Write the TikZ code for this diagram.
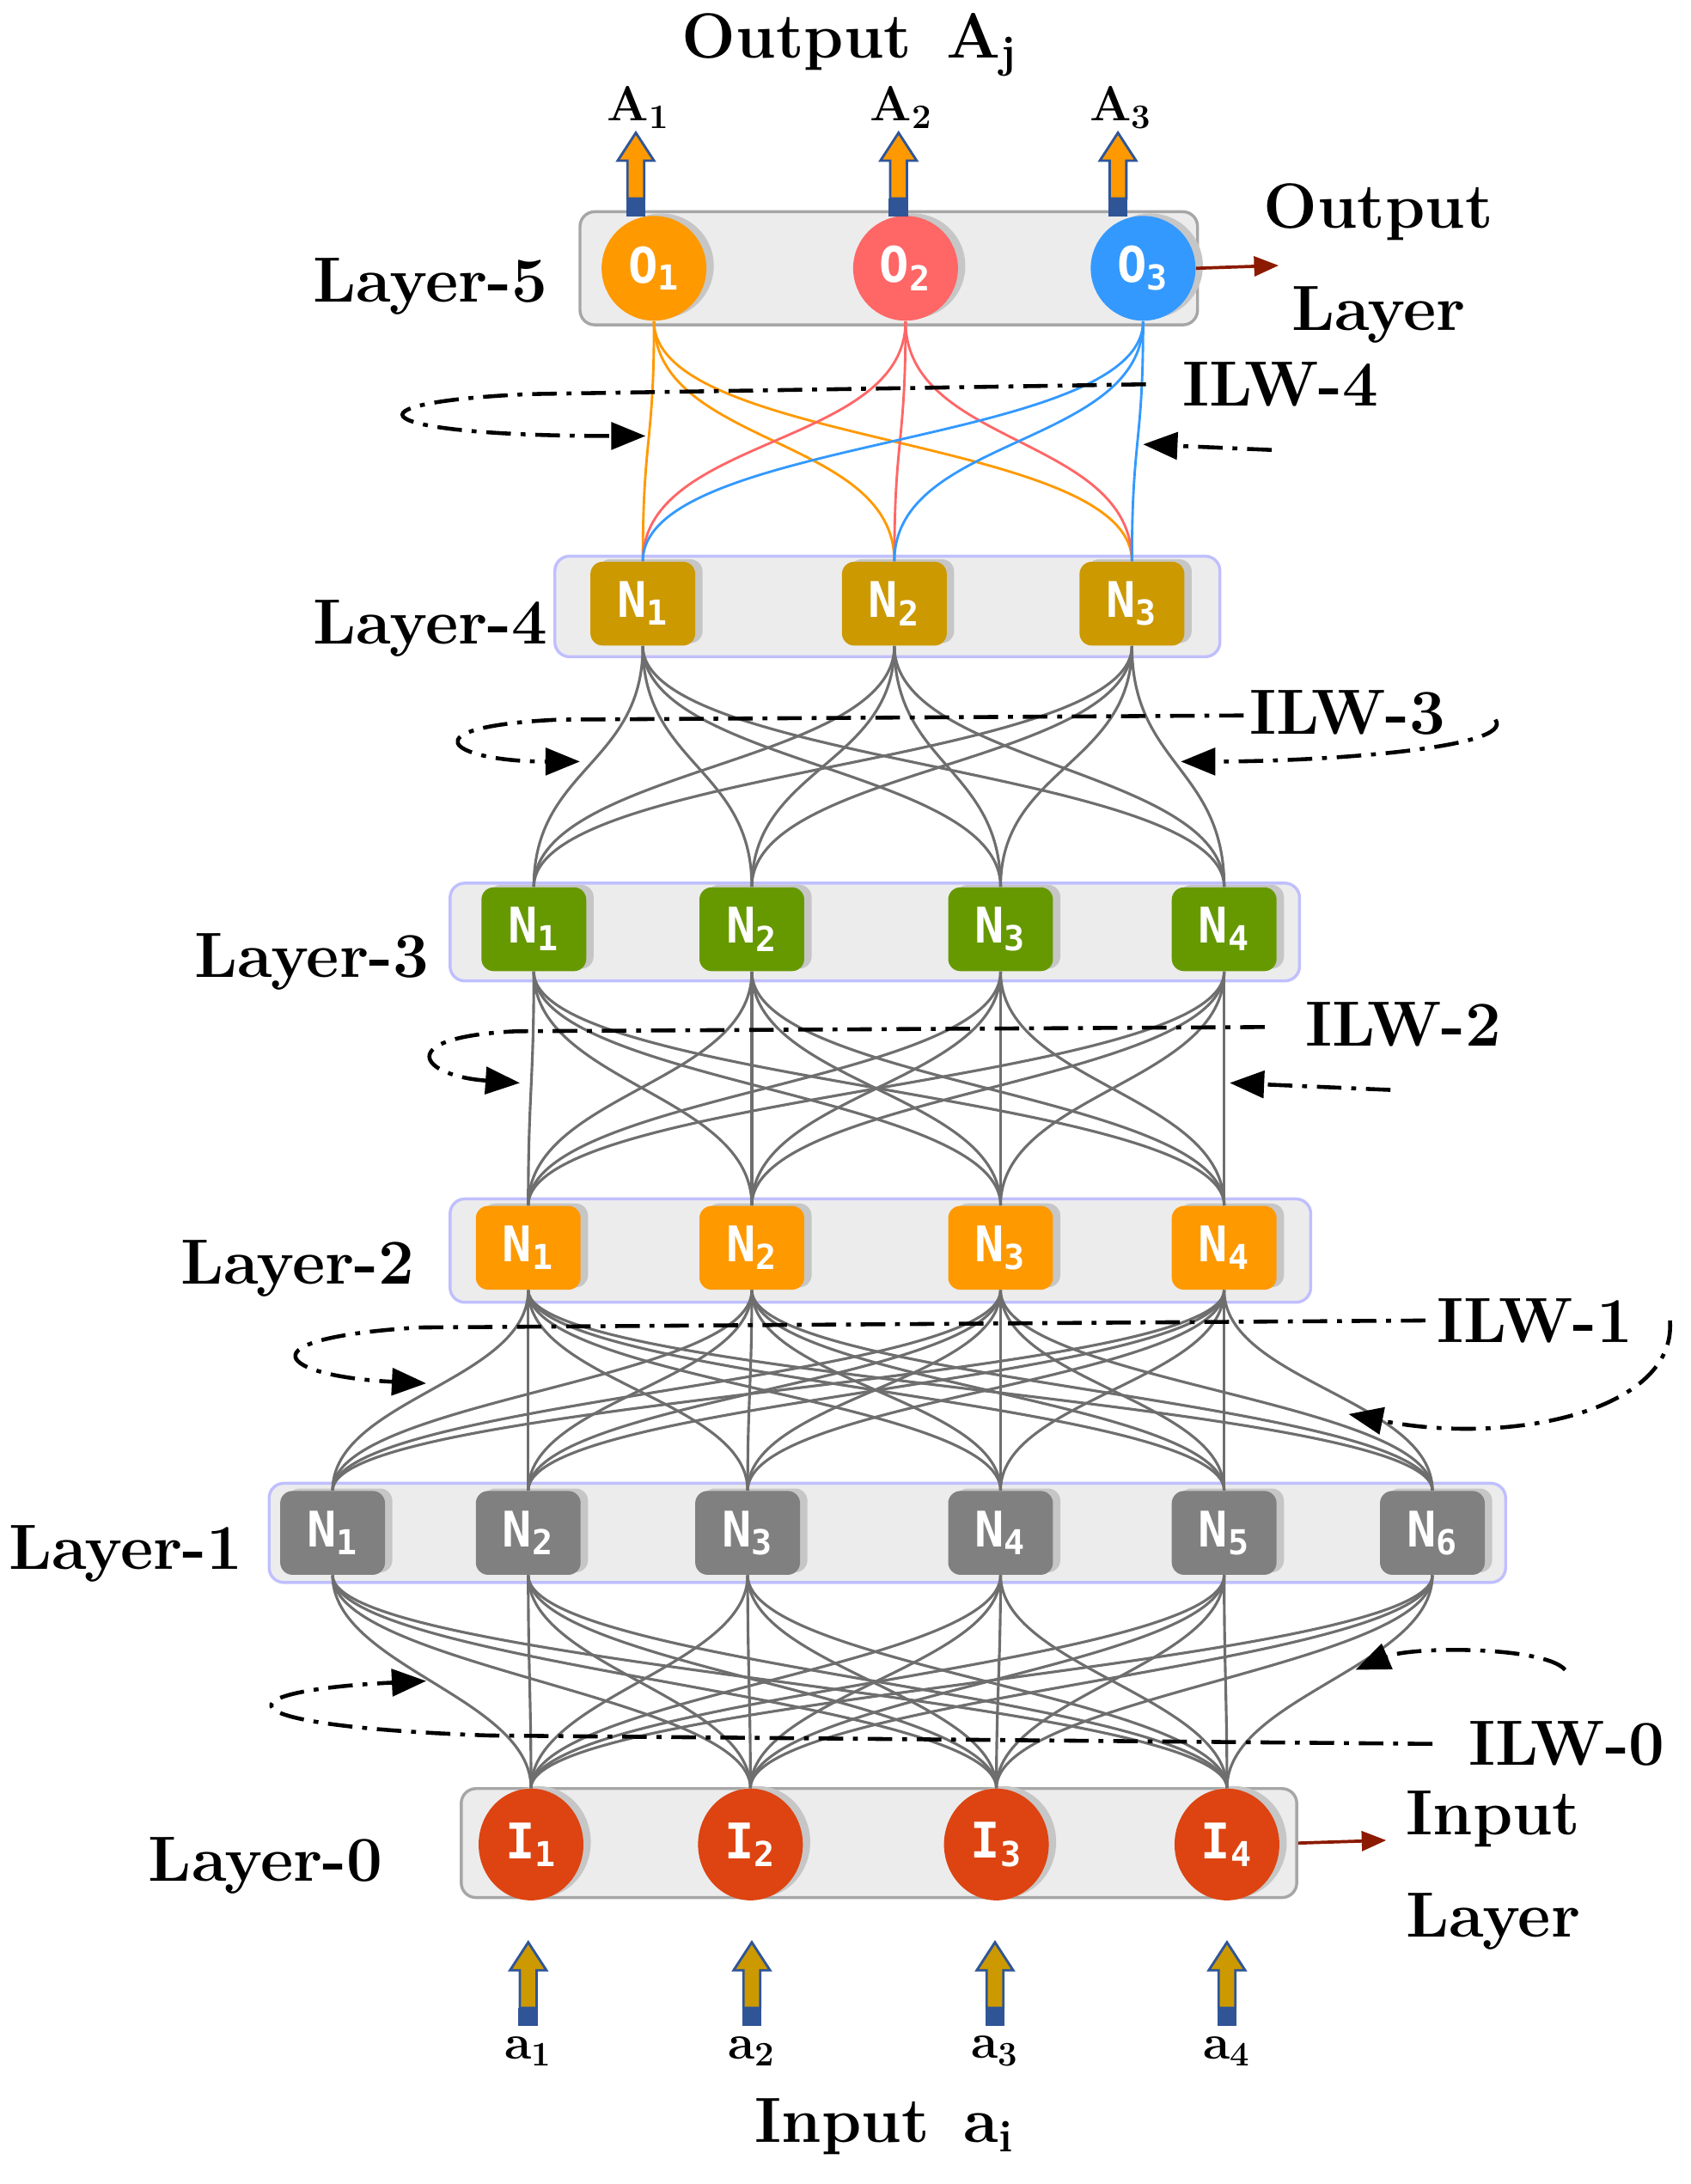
\documentclass[tikz,border=0pt]{standalone}
\usepackage{fontspec}
\newfontfamily\nodefont{DejaVu Sans Mono}
\usetikzlibrary{arrows.meta,shadows,shapes.geometric}
\definecolor{cO1}{HTML}{FF9900}
\definecolor{cO2}{HTML}{FF6666}
\definecolor{cO3}{HTML}{3399FF}
\definecolor{cL4}{HTML}{CC9900}
\definecolor{cL3}{HTML}{669900}
\definecolor{cL2}{HTML}{FF9900}
\definecolor{cL1}{HTML}{808080}
\definecolor{cL0}{HTML}{DD4411}
\definecolor{edge}{HTML}{6E6E6E}
\definecolor{arrblue}{HTML}{2F5597}
\definecolor{darkred}{HTML}{8B1A00}
\newcommand\myuparrow[3]{% x, bottom y, colour
  \fill[arrblue] (#1-7,#2) rectangle (#1+7,#2-13);
  \draw[arrblue,line width=1pt,fill=#3] (#1-6,#2-13) -- (#1-6,#2-40) -- (#1-13,#2-40) -- (#1,#2-60) -- (#1+13,#2-40) -- (#1+6,#2-40) -- (#1+6,#2-13) -- cycle;}
\begin{document}
\begin{tikzpicture}[x=0.02cm,y=-0.02cm,
  lbl/.style={font=\bfseries\fontsize{26}{29}\selectfont},
  box/.style={draw=#1,line width=1.2pt,fill=gray!15,rounded corners=6pt},
  nn/.style={fill=#1,text=white,rounded corners=5pt,minimum width=1.5cm,minimum height=1.2cm,inner sep=0pt,
     font=\nodefont\bfseries\fontsize{20}{22}\selectfont,
     drop shadow={shadow xshift=3pt,shadow yshift=1pt,fill=gray!45,opacity=1}},
  oo/.style={fill=#1,text=white,ellipse,minimum width=1.5cm,minimum height=1.5cm,inner sep=0pt,
     font=\nodefont\bfseries\fontsize{20}{22}\selectfont,
     drop shadow={shadow xshift=3pt,shadow yshift=1pt,fill=gray!45,opacity=1}},
  ed/.style={draw=edge,line width=1.1pt},
  ilw/.style={draw=black,line width=1.6pt,dash pattern=on 10pt off 4pt on 2pt off 4pt},
  ilwa/.style={ilw,-{Triangle[length=14pt,width=11pt]}}]
\useasboundingbox (0,0) rectangle (1210,1563);
% layer boxes
\node[box=gray!70,minimum width=8.84cm,minimum height=1.62cm] (B5) at (636,192) {};
\node[box=blue!25,minimum width=9.52cm,minimum height=1.44cm] (B4) at (635,434) {};
\node[box=blue!25,minimum width=12.16cm,minimum height=1.4cm] (B3) at (626,667) {};
\node[box=blue!25,minimum width=12.32cm,minimum height=1.48cm] (B2) at (630,895) {};
\node[box=blue!25,minimum width=17.7cm,minimum height=1.42cm] (B1) at (635,1097) {};
\node[box=gray!70,minimum width=11.96cm,minimum height=1.56cm] (B0) at (629,1319) {};
% nodes
\node[oo=cO1] (O1) at (468,192) {O\textsubscript{1}};
\node[oo=cO2] (O2) at (648,192) {O\textsubscript{2}};
\node[oo=cO3] (O3) at (818,192) {O\textsubscript{3}};
\foreach \x/\i in {460/1,640/2,810/3}
  \node[nn=cL4] (D\i) at (\x,432) {N\textsubscript{\i}};
\foreach \x/\i in {382/1,538/2,716/3,876/4}
  \node[nn=cL3] (C\i) at (\x,665) {N\textsubscript{\i}};
\foreach \x/\i in {378/1,538/2,716/3,876/4}
  \node[nn=cL2] (B\i) at (\x,893) {N\textsubscript{\i}};
\foreach \x/\i in {238/1,378/2,535/3,716/4,876/5,1025/6}
  \node[nn=cL1] (A\i) at (\x,1097) {N\textsubscript{\i}};
\foreach \x/\i in {380/1,537/2,713/3,878/4}
  \node[oo=cL0,minimum height=1.6cm] (I\i) at (\x,1320) {I\textsubscript{\i}};
% edges
\foreach \s/\c in {1/cO1,2/cO2,3/cO3}
  \foreach \t in {1,2,3}
    \draw[draw=\c,line width=1pt] (O\s.south) .. controls ([yshift=-1.8cm]O\s.south) and ([yshift=1.8cm]D\t.north) .. (D\t.north);
\foreach \s in {1,2,3}
  \foreach \t in {1,2,3,4}
    \draw[ed] (D\s.south) .. controls ([yshift=-1.7cm]D\s.south) and ([yshift=1.7cm]C\t.north) .. (C\t.north);
\foreach \s in {1,2,3,4}
  \foreach \t in {1,2,3,4}
    \draw[ed] (C\s.south) .. controls ([yshift=-1.6cm]C\s.south) and ([yshift=1.6cm]B\t.north) .. (B\t.north);
\foreach \s in {1,...,4}
  \foreach \t in {1,...,6}
    \draw[ed] (B\s.south) .. controls ([yshift=-1.3cm]B\s.south) and ([yshift=1.3cm]A\t.north) .. (A\t.north);
\foreach \s in {1,...,6}
  \foreach \t in {1,...,4}
    \draw[ed] (A\s.south) .. controls ([yshift=-1.3cm]A\s.south) and ([yshift=1.3cm]I\t.north) .. (I\t.north);
% ILW loops
\draw[ilwa] (820,275) -- (380,282) .. controls (240,288) and (260,312) .. (462,312);
\draw[ilwa] (910,322) -- (818,318);
\node[lbl,anchor=west] (W4) at (840,275) {ILW-4};
\draw[ilwa] (890,512) -- (400,515) .. controls (290,520) and (320,545) .. (415,545);
\draw[ilwa] (1070,515) .. controls (1085,535) and (950,545) .. (845,545);
\node[lbl,anchor=west] (W3) at (888,510) {ILW-3};
\draw[ilwa] (905,735) -- (370,738) .. controls (280,742) and (300,770) .. (372,775);
\draw[ilwa] (995,780) -- (880,775);
\node[lbl,anchor=west] (W2) at (928,733) {ILW-2};
\draw[ilwa] (1020,945) -- (300,950) .. controls (170,958) and (200,985) .. (305,990);
\draw[ilwa] (1195,945) .. controls (1200,1010) and (1080,1035) .. (965,1012);
\node[lbl,anchor=west] (W1) at (1022,945) {ILW-1};
\draw[ilwa] (1025,1248) -- (350,1242) .. controls (150,1235) and (160,1210) .. (305,1203);
\draw[ilwa] (1120,1195) .. controls (1105,1178) and (1010,1178) .. (970,1195);
\node[lbl,anchor=west] (W0) at (1045,1248) {ILW-0};
% labels
\node[lbl] (L5) at (308,205) {Layer-5};
\node[lbl] (L4) at (308,450) {Layer-4};
\node[lbl] (L3) at (223,688) {Layer-3};
\node[lbl] (L2) at (213,908) {Layer-2};
\node[lbl] (L1) at (90,1112) {Layer-1};
\node[lbl] (L0) at (190,1335) {Layer-0};
\node[lbl] (TO) at (608,32) {Output \,A\textsubscript{j}};
\node[lbl,anchor=west] (OL1) at (898,152) {Output};
\node[lbl,anchor=west] (OL2) at (918,225) {Layer};
\node[lbl,anchor=west] (IL1) at (1000,1302) {Input};
\node[lbl,anchor=west] (IL2) at (1000,1375) {Layer};
\node[lbl] (TI) at (633,1522) {Input \,a\textsubscript{i}};
\coordinate (OR) at (915,190);
\coordinate (IR) at (992,1317);
\draw[darkred,line width=1.3pt,-{Triangle[length=10pt,width=8pt]}] (O3.east) -- (OR);
\draw[darkred,line width=1.3pt,-{Triangle[length=10pt,width=8pt]}] (B0.east) -- (IR);
% in/out arrows
\foreach \x/\i in {455/1,643/2,800/3}{
  \myuparrow{\x}{155}{cO1}
  \node[font=\bfseries\fontsize{20}{22}\selectfont] at (\x+2,77) {A\textsubscript{\i}};}
\foreach \x/\i in {378/1,538/2,712/3,878/4}{
  \myuparrow{\x}{1450}{cL4}
  \node[font=\bfseries\fontsize{20}{22}\selectfont] at (\x,1468) {a\textsubscript{\i}};}
\end{tikzpicture}
\end{document}
